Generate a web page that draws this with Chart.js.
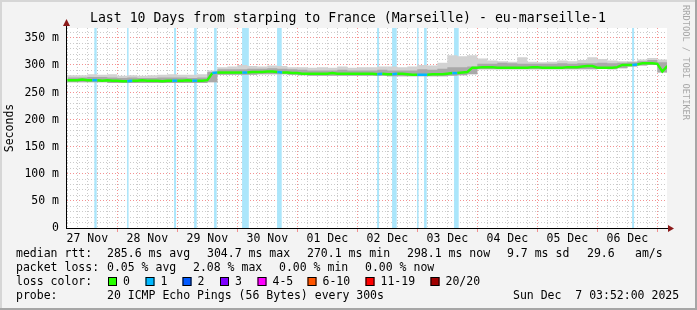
<!DOCTYPE html>
<html>
<head>
<meta charset="utf-8">
<script src="https://cdn.jsdelivr.net/npm/chart.js@4.4.1/dist/chart.umd.min.js"></script>
<style>
  html, body { margin: 0; padding: 0; background: #f3f3f3; }
  #wrap { width: 697px; height: 310px; }
</style>
</head>
<body>
<div id="wrap"><canvas id="chart_1" width="697" height="310"></canvas></div>
<script>
// hours counted from 27 Nov 00:00, graph runs 27 Nov 03:52 -> 07 Dec 03:52
const startHour = 3.87;
const endHour = 243.87;

const dayLabels = ['27 Nov', '28 Nov', '29 Nov', '30 Nov', '01 Dec', '02 Dec', '03 Dec', '04 Dec', '05 Dec', '06 Dec'];
const yLabelValues = [0, 50, 100, 150, 200, 250, 300, 350];
const yLabelText = ['0', '50 m', '100 m', '150 m', '200 m', '250 m', '300 m', '350 m'];

// median rtt (ms), one value every 2 hours starting at hour 4
const medianFirst = 4;
const medianStep = 2;
const medianRtt = [
  272,272,272,273,272,272,272,271,272,271,271,270,270,271,271,272,271,271,271,270,271,271,271,271,272,271,271,271,272,
  285,286,286,286,286,286,286,286,287,287,287,288,288,287,286,286,285,285,
  284,284,284,284,284,284,285,284,284,284,284,284,284,284,284,283,284,283,283,284,284,283,282,282,282,282,283,283,283,284,285,285,286,287,
  295,295,296,296,296,295,295,295,295,295,295,295,296,296,295,295,295,295,295,296,296,296,297,298,298,295,295,295,295,
  296,300,300,300,301,303,303,303,302,288,298
];

// smoke (spread of the 20 pings), one value every 4 hours starting at hour 4
const smokeFirst = 4;
const smokeStep = 4;
const smokeLow = [
  268,268,268,268,267,267,267,267,267,267,267,267,267,267,268,
  282,282,282,282,283,283,283,282,281,
  280,280,280,280,280,280,280,280,279,279,279,279,279,279,280,281,
  283,
  292,292,292,292,292,292,292,292,292,292,292,292,293,292,
  294,297,299,300,286,295
];
const smokeHigh = [
  277,277,278,278,277,276,277,276,276,277,277,277,276,277,287,
  292,292,292,293,293,294,293,292,291,
  290,290,290,291,290,290,290,291,290,290,290,292,291,293,296,296,
  297,
  302,302,304,303,302,302,302,302,303,302,303,303,304,303,
  304,305,307,309,305,302
];
const smokeMax = [
  281,281,283,282,283,280,281,280,281,282,283,282,282,283,290,
  296,297,300,298,297,299,298,296,296,
  295,296,295,297,295,296,296,297,297,296,297,300,299,304,318,316,
  318,
  312,308,307,306,314,306,305,306,308,307,309,314,311,308,
  307,307,310,313,310,305
];

// periods with packet loss (1/20), hours
const lossStart = [14.8, 27.9, 46.7, 54.7, 62.7, 73.9, 87.9, 127.9, 133.9, 143.9, 146.7, 158.7, 229.9];
const lossEnd   = [15.75, 28.5, 47.5, 55.75, 63.75, 76.6, 89.75, 128.7, 135.75, 144.5, 147.75, 160.55, 230.7];

const lossLabels = ['0', '1', '2', '3', '4-5', '6-10', '11-19', '20/20'];
const lossColors = ['#26ff00', '#00b8ff', '#0059ff', '#7e00ff', '#ff00ff', '#ff5500', '#ff0000', '#a10000'];

const FONT = '"DejaVu Sans Mono", monospace';

const toPoints = (arr, first, step) => arr.map((v, i) => ({ x: first + i * step, y: v }));

function lossInSegment(a, b) {
  for (let i = 0; i < lossStart.length; i++) {
    const m = (lossStart[i] + lossEnd[i]) / 2;
    if (m >= a && m < b) return true;
  }
  return false;
}

const smokepingDecor = {
  id: 'smokepingDecor',
  beforeDraw(chart) {
    const { ctx, chartArea: a } = chart;
    ctx.save();
    ctx.fillStyle = '#f3f3f3';
    ctx.fillRect(0, 0, 697, 310);
    // frame
    ctx.fillStyle = '#d6d6d6';
    ctx.fillRect(0, 0, 697, 2);
    ctx.fillRect(0, 0, 2, 310);
    ctx.fillStyle = '#a6a6a6';
    ctx.fillRect(0, 308, 697, 2);
    ctx.fillRect(695, 0, 2, 310);
    ctx.fillStyle = '#ffffff';
    ctx.fillRect(a.left, a.top, a.right - a.left, a.bottom - a.top);
    ctx.restore();
  },
  beforeDatasetsDraw(chart) {
    const { ctx, chartArea: a } = chart;
    const xs = chart.scales.x;
    ctx.save();
    ctx.fillStyle = '#abe6fb';
    for (let i = 0; i < lossStart.length; i++) {
      const x0 = xs.getPixelForValue(lossStart[i]);
      const x1 = xs.getPixelForValue(lossEnd[i]);
      ctx.fillRect(x0, a.top, x1 - x0, a.bottom - a.top);
    }
    ctx.restore();
  },
  afterDraw(chart) {
    const { ctx, chartArea: a } = chart;
    const ys = chart.scales.y;
    ctx.save();

    // title
    ctx.font = '13.2px ' + FONT;
    ctx.fillStyle = '#000';
    ctx.textAlign = 'center';
    ctx.textBaseline = 'middle';
    ctx.fillText('Last 10 Days from starping to France (Marseille) - eu-marseille-1', 348, 19);

    // y tick labels
    ctx.font = '11.5px ' + FONT;
    ctx.textAlign = 'right';
    for (let i = 0; i < yLabelValues.length; i++) {
      ctx.fillText(yLabelText[i], 59, ys.getPixelForValue(yLabelValues[i]) + 0.5);
    }

    // axes with arrows
    ctx.fillStyle = '#000';
    ctx.fillRect(a.left - 1, 24, 1, a.bottom - 24 + 1);
    ctx.fillRect(a.left - 1, a.bottom, a.right - a.left + 4, 1);
    ctx.fillStyle = '#8b1a1a';
    ctx.beginPath();
    ctx.moveTo(a.left - 0.5, 19);
    ctx.lineTo(a.left - 4, 26);
    ctx.lineTo(a.left + 3, 26);
    ctx.closePath();
    ctx.fill();
    ctx.beginPath();
    ctx.moveTo(a.right + 7, a.bottom + 0.5);
    ctx.lineTo(a.right + 1, a.bottom - 3);
    ctx.lineTo(a.right + 1, a.bottom + 4);
    ctx.closePath();
    ctx.fill();

    // rrdtool credit
    ctx.save();
    ctx.translate(685, 5);
    ctx.rotate(Math.PI / 2);
    ctx.font = '8.7px ' + FONT;
    ctx.fillStyle = '#a8a8a8';
    ctx.textAlign = 'left';
    ctx.textBaseline = 'middle';
    ctx.fillText('RRDTOOL / TOBI OETIKER', 0, 0);
    ctx.restore();

    // legend / statistics
    ctx.font = '11.5px ' + FONT;
    ctx.fillStyle = '#000';
    ctx.textAlign = 'left';
    ctx.textBaseline = 'middle';
    const t = (s, x, y) => ctx.fillText(s, x, y);
    t('median rtt:', 16, 254);
    t('285.6 ms avg', 107, 254);
    t('304.7 ms max', 207, 254);
    t('270.1 ms min', 307, 254);
    t('298.1 ms now', 407, 254);
    t('9.7 ms sd', 507, 254);
    t('29.6', 587, 254);
    t('am/s', 635, 254);

    t('packet loss:', 16, 268);
    t('0.05 % avg', 107, 268);
    t('2.08 % max', 193, 268);
    t('0.00 % min', 279, 268);
    t('0.00 % now', 365, 268);

    t('loss color:', 16, 282);
    const boxX = [108, 145.5, 182.5, 220, 257.5, 307.5, 365.5, 430.5];
    for (let i = 0; i < lossLabels.length; i++) {
      ctx.fillStyle = lossColors[i];
      ctx.fillRect(boxX[i], 277, 9, 9);
      ctx.strokeStyle = '#000';
      ctx.lineWidth = 1;
      ctx.strokeRect(boxX[i] + 0.5, 277.5, 8, 8);
      ctx.fillStyle = '#000';
      t(lossLabels[i], boxX[i] + 15, 282);
    }

    t('probe:', 16, 296);
    t('20 ICMP Echo Pings (56 Bytes) every 300s', 107, 296);
    t('Sun Dec  7 03:52:00 2025', 513, 296);

    ctx.restore();
  }
};

const config = {
  type: 'line',
  data: {
    datasets: [
      {
        label: 'median rtt',
        data: toPoints(medianRtt, medianFirst, medianStep),
        borderColor: lossColors[0],
        borderWidth: 2.5,
        pointRadius: 0,
        fill: false,
        segment: {
          borderColor: c => lossInSegment(c.p0.parsed.x, c.p1.parsed.x) ? lossColors[1] : lossColors[0]
        }
      },
      {
        label: 'smoke high',
        data: toPoints(smokeHigh, smokeFirst, smokeStep),
        borderWidth: 0,
        pointRadius: 0,
        stepped: true,
        backgroundColor: '#a9a9a9',
        fill: 3
      },
      {
        label: 'smoke max',
        data: toPoints(smokeMax, smokeFirst, smokeStep),
        borderWidth: 0,
        pointRadius: 0,
        stepped: true,
        backgroundColor: '#d2d2d2',
        fill: 3
      },
      {
        label: 'smoke low',
        data: toPoints(smokeLow, smokeFirst, smokeStep),
        borderWidth: 0,
        pointRadius: 0,
        stepped: true,
        fill: false
      }
    ]
  },
  options: {
    responsive: false,
    animation: false,
    devicePixelRatio: 1,
    layout: { padding: { left: 0, right: 30, top: 28, bottom: 62 } },
    plugins: {
      legend: { display: false },
      title: { display: false },
      tooltip: { enabled: false }
    },
    scales: {
      x: {
        type: 'linear',
        min: startHour,
        max: endHour,
        afterBuildTicks: s => {
          const ticks = [];
          for (let h = 4; h <= 240; h += 4) ticks.push({ value: h });
          s.ticks = ticks;
        },
        afterFit: s => { s.height = 20; },
        ticks: {
          autoSkip: false,
          maxRotation: 0,
          padding: 0,
          color: '#000',
          font: { family: FONT, size: 11.5 },
          callback: v => (v % 24 === 12) ? dayLabels[(v - 12) / 24] : ''
        },
        grid: {
          color: c => (c.tick && c.tick.value % 24 === 0) ? 'rgba(240,110,110,0.75)' : 'rgba(160,160,160,0.55)',
          tickColor: c => (c.tick && c.tick.value % 24 === 0) ? 'rgba(240,110,110,0.75)' : 'rgba(0,0,0,0)',
          tickLength: 4,
          drawTicks: true
        },
        border: { display: false, dash: [1, 2] }
      },
      y: {
        min: 0,
        max: 368,
        afterBuildTicks: s => {
          const ticks = [];
          for (let v = 0; v <= 360; v += 10) ticks.push({ value: v });
          s.ticks = ticks;
        },
        afterFit: s => { s.width = 67; },
        ticks: { display: false },
        grid: {
          color: c => (c.tick && c.tick.value % 50 === 0 && c.tick.value > 0) ? 'rgba(240,110,110,0.75)' : 'rgba(160,160,160,0.55)',
          drawTicks: false
        },
        border: { display: false, dash: [1, 2] },
        title: {
          display: true,
          text: 'Seconds',
          color: '#000',
          font: { family: FONT, size: 11.5 },
          padding: { top: 3, bottom: 0 }
        }
      }
    }
  },
  plugins: [smokepingDecor]
};

const chart_1 = new Chart(document.getElementById('chart_1'), config);
</script>
</body>
</html>
